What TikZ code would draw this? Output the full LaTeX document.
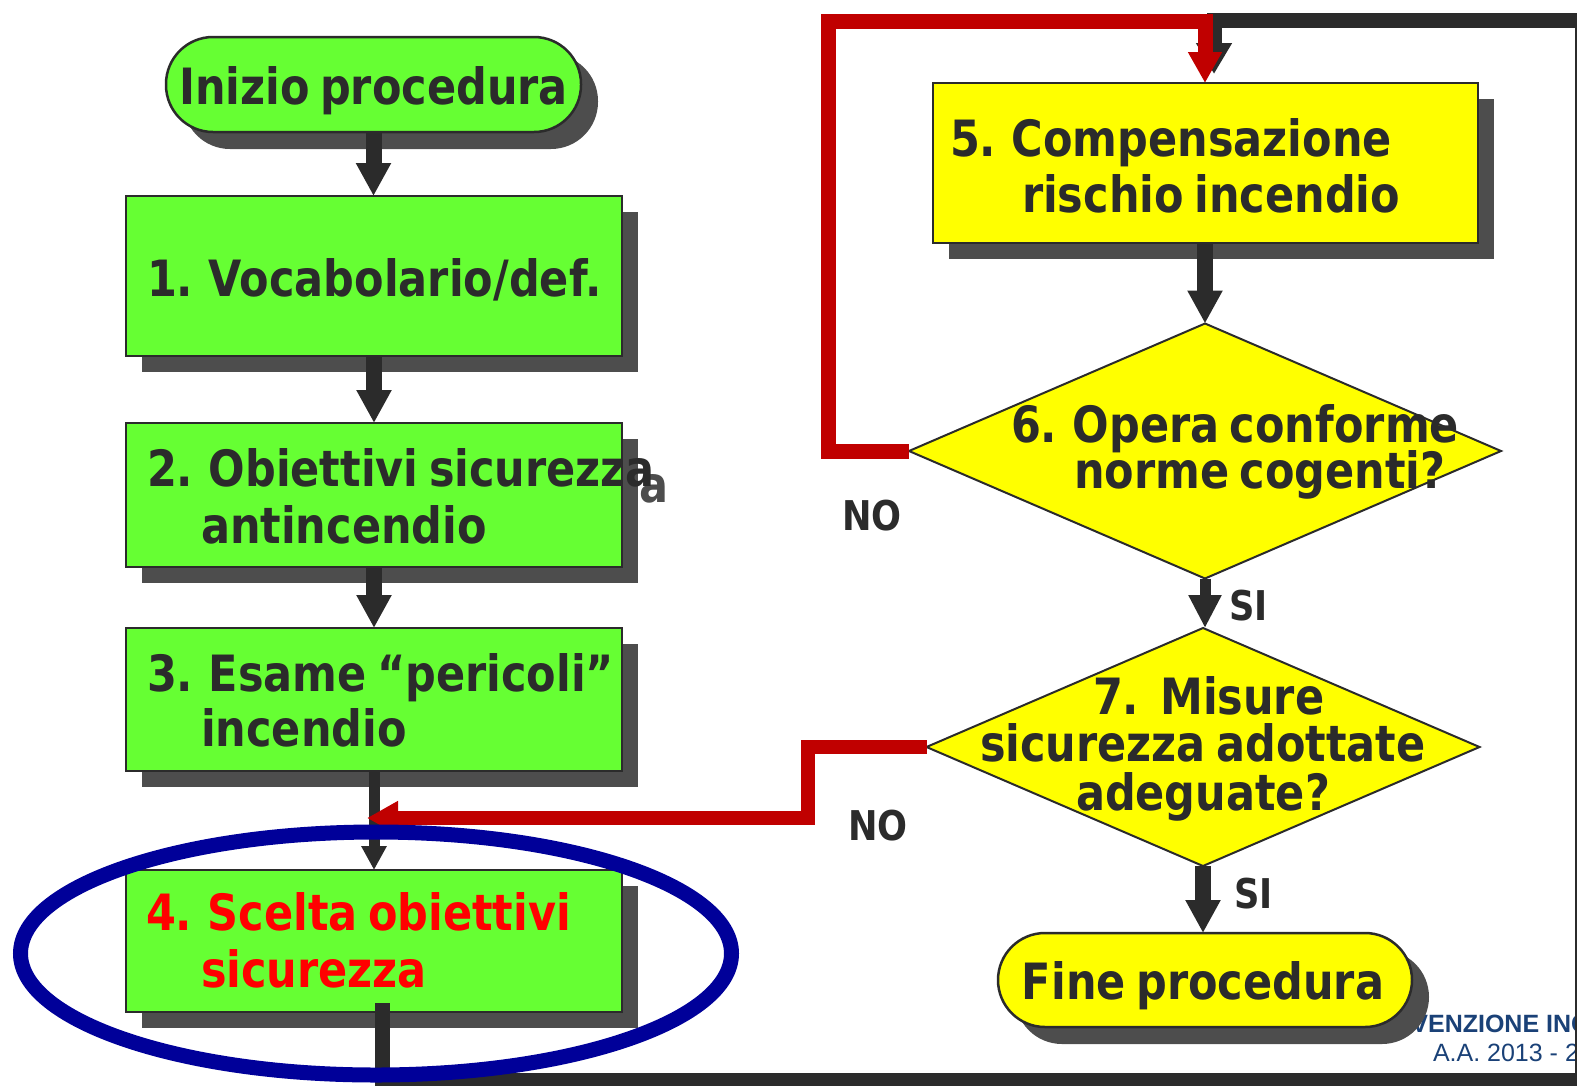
\documentclass[tikz,border=0pt]{standalone}
\usepackage{fontspec}
\setmainfont{DejaVu Sans}[FakeStretch=0.86,WordSpace=0.7]
\setsansfont{Liberation Sans}
\usetikzlibrary{arrows.meta,shapes.geometric,shadows}
\definecolor{ink}{HTML}{2B2B2B}
\definecolor{shade}{HTML}{4D4D4D}
\definecolor{boxgreen}{HTML}{66FF33}
\definecolor{boxyellow}{HTML}{FFFF00}
\definecolor{loopred}{HTML}{C00000}
\definecolor{ringblue}{HTML}{000099}
\definecolor{navy}{HTML}{1A4177}
\begin{document}
\begin{tikzpicture}[x=1pt,y=-1pt,
  every node/.style={inner sep=0pt,outer sep=0pt},
  box/.style={rectangle,draw=ink,line width=2.5pt,fill=#1,anchor=north west,
    drop shadow={shadow xshift=16pt,shadow yshift=-16pt,fill=shade,opacity=1}},
  term/.style={rectangle,rounded corners=47pt,draw=ink,line width=2.5pt,fill=#1,anchor=north west,
    drop shadow={shadow xshift=17pt,shadow yshift=-17pt,fill=shade,opacity=1}},
  decision/.style={diamond,draw=ink,line width=2pt,fill=boxyellow},
  txt/.style={anchor=base west,text=ink,font=\bfseries\fontsize{50}{56}\selectfont},
  lbl/.style={anchor=base west,text=ink,font=\bfseries\fontsize{41}{46}\selectfont},
  darrow/.style={draw=ink,line width=16pt,-{Triangle[width=33pt 0 0,length=33pt 0 0]}},
  sarrow/.style={draw=ink,line width=11pt,-{Triangle[width=24pt 0 0,length=24pt 0 0]}},
  narrow/.style={draw=ink,line width=11pt,-{Triangle[width=31pt 0 0,length=33pt 0 0]}},
  redline/.style={draw=loopred,line width=15pt,line join=miter,-{Triangle[width=32pt 0 0,length=31pt 0 0]}},
  loopline/.style={draw=ink,line width=15pt,line join=miter,-{Triangle[width=34pt 0 0,length=31pt 0 0]}},
]
\clip (0,0) rectangle (1577,1085);

% footer text (partly hidden)
\node[anchor=base west,text=navy,font=\sffamily\bfseries\fontsize{25}{28}\selectfont] (foot1) at (1360,1032) {PREVENZIONE INCENDI};
\node[anchor=base west,text=navy,font=\sffamily\fontsize{25}{28}\selectfont] (foot2) at (1433,1061) {A.A. 2013 - 2014};

% left column
\node[term=boxgreen,minimum width=415pt,minimum height=95pt] (start) at (166,37) {};
\node[txt,anchor=base] (tstart) at (373.5,104) {Inizio procedura};

\node[box=boxgreen,minimum width=496pt,minimum height=160pt] (b1) at (126,196) {};
\node[txt] (t1) at (147,296) {1. Vocabolario/def.};

\node[txt,text=shade] (t2s) at (161,502) {2. Obiettivi sicurezza};
\node[box=boxgreen,minimum width=496pt,minimum height=144pt] (b2) at (126,423) {};
\node[txt] (t2a) at (147,486) {2. Obiettivi sicurezza};
\node[txt] (t2b) at (201,543) {antincendio};

\node[box=boxgreen,minimum width=496pt,minimum height=143pt] (b3) at (126,628) {};
\node[txt] (t3a) at (147,691) {3. Esame “pericoli”};
\node[txt] (t3b) at (201,746) {incendio};

\node[box=boxgreen,minimum width=496pt,minimum height=142pt] (b4) at (126,870) {};
\node[txt,text=red] (t4a) at (146,930) {4. Scelta obiettivi};
\node[txt,text=red] (t4b) at (201,987) {sicurezza};

% right column
\node[box=boxyellow,minimum width=545pt,minimum height=160pt] (b5) at (933,83) {};
\node[txt] (t5a) at (950,156) {5. Compensazione};
\node[txt] (t5b) at (1022,212) {rischio incendio};

\node[decision,minimum width=592pt,minimum height=255pt] (d6) at (1205,451) {};
\node[txt] (t6a) at (1011,442) {6. Opera conforme};
\node[txt] (t6b) at (1074,488) {norme cogenti?};

\node[decision,minimum width=553pt,minimum height=238pt] (d7) at (1203,747) {};
\node[txt] (t7a) at (1093,714) {7.\ \ Misure};
\node[txt] (t7b) at (980,761) {sicurezza adottate};
\node[txt] (t7c) at (1076,810) {adeguate?};

\node[term=boxyellow,minimum width=414pt,minimum height=94pt] (end) at (998,933) {};
\node[txt,anchor=base] (tend) at (1203,999) {Fine procedura};

% labels
\node[lbl] (no1) at (842,530) {NO};
\node[lbl] (si1) at (1229,620) {SI};
\node[lbl] (no2) at (848,840) {NO};
\node[lbl] (si2) at (1234,908) {SI};

% straight connectors
\draw[darrow] (start.south) -- (start.south |- b1.north);
\draw[darrow] (b1.south) -- (b2.north);
\draw[darrow] (b2.south) -- (b3.north);
\draw[sarrow] (b3.south) -- (b4.north);
\draw[darrow] (b5.south -| d6.north) -- (d6.north);
\draw[narrow] (d6.south) -- (d6.south |- d7.north);
\draw[darrow] (d7.south) -- (d7.south |- end.north);

% loop from box 4 round the frame into box 5
\coordinate (looptip) at (1214,74);
\draw[loopline] ([shift={(8,-9)}]b4.south) -- (382,1080) -- (1582,1080) -- (1582,20) -- (1214,20) -- (looptip);

% red NO connectors
\draw[redline] (d6.west) -- (828,451) -- (828,21) -- (1205,21) -- (1205,83) coordinate (redtop);
\coordinate (redtip) at (367,818);
\draw[redline,line width=14pt] (d7.west) -- (808,747) -- (808,818) -- (redtip);

% highlight ring
\node[ellipse,draw=ringblue,line width=15pt,minimum width=711pt,minimum height=243pt] (ring) at (376,953.5) {};
\end{tikzpicture}
\end{document}
